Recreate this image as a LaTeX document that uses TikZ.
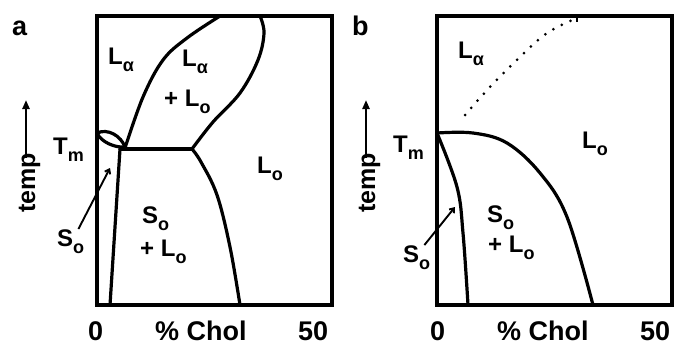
\documentclass[tikz,border=0pt]{standalone}
\usepackage{fontspec}
\setmainfont{Liberation Sans}
\usetikzlibrary{arrows.meta}
% small subscript set fully below the baseline, as in phase names
\newcommand\phsub[1]{\raisebox{-7pt}{\fontsize{18}{18}\selectfont #1}}
\begin{document}
\begin{tikzpicture}[x=1pt,y=-1pt,
  frame/.style={line width=4.3pt},
  phase/.style={line width=3.2pt, line join=round, line cap=round},
  pointer/.style={line width=1.9pt, -{Straight Barb[length=4pt,width=6pt]}},
  lab/.style={font=\fontsize{24}{24}\selectfont\bfseries, inner sep=0pt, anchor=base west},
  axlab/.style={font=\fontsize{27}{27}\selectfont\bfseries, inner sep=0pt, anchor=base west},
  panel/.style={font=\fontsize{27}{27}\selectfont\bfseries, inner sep=0pt, anchor=base west},
  templab/.style={font=\fontsize{25}{25}\selectfont\bfseries, inner sep=0pt, rotate=90, anchor=base west}]
\useasboundingbox (0,0) rectangle (677,349);

% ---------------- panel a ----------------
\draw[frame] (97,16) rectangle (332,305);
% liquid-liquid coexistence loop
\draw[phase] plot[smooth, tension=0.6] coordinates {(125,148) (143,97) (163,60) (187,38) (220,16)};
\draw[phase] plot[smooth, tension=0.6] coordinates {(192,149) (213,122) (240,93) (258,60) (264,33) (260,16)};
% three-phase line
\draw[phase] (120,149) -- (192,149);
% solid boundaries
\draw[phase] (120,149) -- (110,305);
\draw[phase] plot[smooth, tension=0.6] coordinates {(192,149) (201,162) (217,195) (230,247) (240,305)};
% small lens at the main transition
\draw[phase] (97,133) .. controls (108,128) and (121,136) .. (125,147);
\draw[phase] (97,133) .. controls (101,142) and (115,148) .. (125,147);

\node[panel] (pa) at (12,35) {a};
\node[lab] (laA) at (108,64) {L\phsub{α}};
\node[lab] (la2A) at (182,66) {L\phsub{α}};
\node[lab] (plA) at (164,106) {+ L\phsub{o}};
\node[lab] (tmA) at (53,154) {T\phsub{m}};
\node[lab] (loA) at (257,173) {L\phsub{o}};
\node[lab] (soA) at (57,246) {S\phsub{o}};
\node[lab] (so2A) at (142,223) {S\phsub{o}};
\node[lab] (pl2A) at (140,256) {+ L\phsub{o}};
\node[axlab] (zeroA) at (88,340) {0};
\node[axlab] (cholA) at (155,340) {\% Chol};
\node[axlab] (fiftyA) at (298,340) {50};
\node[templab] (tempA) at (35,213) {temp};
\coordinate (arrA) at (26,100);
\draw[line width=2.2pt, -{Triangle[length=9pt,width=7pt]}] ([yshift=-5pt]tempA.east -| arrA) -- (arrA);
\coordinate (tipA) at (110,168);
\draw[pointer] ([xshift=-6pt]soA.north east) -- (tipA);

% ---------------- panel b ----------------
\draw[frame] (437,16) rectangle (672,305);
\draw[phase] plot[smooth, tension=0.6] coordinates {(437,133) (473,133) (507,143) (540,173) (567,217) (593,305)};
\draw[phase] plot[smooth, tension=0.6] coordinates {(437,133) (457,187) (463,233) (468,305)};
\draw[line width=3pt, line cap=round, dash pattern=on 0pt off 9.5pt]
  plot[smooth, tension=0.6] coordinates {(465,115) (490,87) (520,57) (547,33) (577,18)};
\draw[line width=2.2pt] (577,16) -- (577,22);

\node[panel] (pb) at (352,35) {b};
\node[lab] (laB) at (458,58) {L\phsub{α}};
\node[lab] (tmB) at (393,152) {T\phsub{m}};
\node[lab] (loB) at (582,148) {L\phsub{o}};
\node[lab] (soB) at (403,262) {S\phsub{o}};
\node[lab] (so2B) at (487,222) {S\phsub{o}};
\node[lab] (pl2B) at (488,252) {+ L\phsub{o}};
\node[axlab] (zeroB) at (430,340) {0};
\node[axlab] (cholB) at (497,340) {\% Chol};
\node[axlab] (fiftyB) at (640,340) {50};
\node[templab] (tempB) at (375,213) {temp};
\coordinate (arrB) at (366,100);
\draw[line width=2.2pt, -{Triangle[length=9pt,width=7pt]}] ([yshift=-5pt]tempB.east -| arrB) -- (arrB);
\coordinate (tipB) at (455,207);
\draw[pointer] ([xshift=-6pt]soB.north east) -- (tipB);
\end{tikzpicture}
\end{document}
